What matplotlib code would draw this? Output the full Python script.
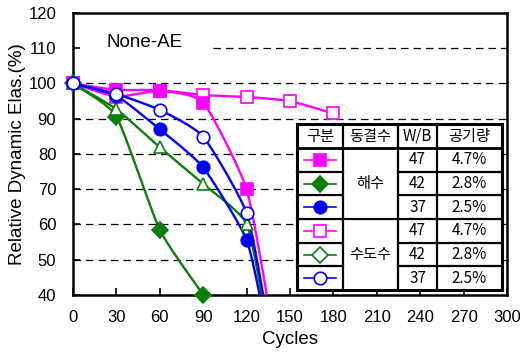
import matplotlib
matplotlib.use('Agg')
import matplotlib.pyplot as plt
import numpy as np
from matplotlib.lines import Line2D
from matplotlib.patches import Rectangle

plt.rcParams['font.family'] = ['Liberation Sans', 'Noto Sans CJK KR', 'DejaVu Sans']

# data
cycles = [0, 30, 60, 90, 120]
sea_47 = [100, 98.2, 98.0, 94.6, 70.0]        # 해수 W/B 47
sea_42 = [100, 90.6, 58.5, 40.0]              # 해수 W/B 42
sea_37 = [100, 96.5, 87.0, 76.2, 55.6]        # 해수 W/B 37
tap_47_x = [0, 30, 60, 90, 120, 150, 180]
tap_47 = [100, 96.3, 98.0, 96.7, 96.2, 95.0, 91.5]  # 수도수 W/B 47
tap_42 = [100, 92.7, 81.9, 71.5, 60.1]        # 수도수 W/B 42
tap_37 = [100, 97.0, 92.5, 84.9, 63.2]        # 수도수 W/B 37
# where the curves leave the bottom of the plot
tails = {'sea_47': (137, 33), 'sea_37': (134, 30), 'tap_42': (134, 32), 'tap_37': (135, 32)}

xticks = list(range(0, 301, 30))
yticks = list(range(40, 121, 10))

table_header = ['구분', '동결수', 'W/B', '공기량']
groups = ['해수', '수도수']
wb = ['47', '42', '37', '47', '42', '37']
air = ['4.7%', '2.8%', '2.5%', '4.7%', '2.8%', '2.5%']

MAG, GRN, BLU = '#FF00FF', '#0A800A', '#0000FF'


def smooth(x, y, c=0.55, n=24):
    # cardinal spline through the points, just for drawing
    p = np.column_stack([x, y]).astype(float)
    m = np.zeros_like(p)
    m[1:-1] = c * (p[2:] - p[:-2]) / 2
    m[0] = c * (p[1] - p[0])
    m[-1] = c * (p[-1] - p[-2])
    t = np.linspace(0, 1, n)[:, None]
    h00 = 2 * t ** 3 - 3 * t ** 2 + 1
    h10 = t ** 3 - 2 * t ** 2 + t
    h01 = -2 * t ** 3 + 3 * t ** 2
    h11 = t ** 3 - t ** 2
    out = [h00 * p[i] + h10 * m[i] + h01 * p[i + 1] + h11 * m[i + 1] for i in range(len(p) - 1)]
    out = np.vstack(out)
    return out[:, 0], out[:, 1]


fig = plt.figure(figsize=(5.2, 3.52), dpi=100)
ax = fig.add_axes([73 / 520, 57 / 352, 434 / 520, 282 / 352])
ax.set_xlim(0, 300)
ax.set_ylim(40, 120)

# dashed grid
for yv in [50, 60, 70, 80, 90, 100]:
    ax.plot([0, 300], [yv, yv], color='black', lw=0.9, ls=(0, (6, 4)), zorder=1)
ax.plot([97, 300], [110, 110], color='black', lw=0.9, ls=(0, (6, 4)), zorder=1)

series = [
    (tap_47_x, tap_47, None, MAG, 's', 'white'),
    (cycles, sea_47, 'sea_47', MAG, 's', MAG),
    (cycles[:4], sea_42, None, GRN, 'D', GRN),
    (cycles, tap_42, 'tap_42', GRN, '^', 'white'),
    (cycles, sea_37, 'sea_37', BLU, 'o', BLU),
    (cycles, tap_37, 'tap_37', BLU, 'o', 'white'),
]
for k, (xs, ys, tail, col, mk, fc) in enumerate(series):
    lx, ly = list(xs), list(ys)
    if tail:
        lx.append(tails[tail][0])
        ly.append(tails[tail][1])
    sx, sy = smooth(lx, ly)
    ax.plot(sx, sy, color=col, lw=1.7, zorder=3 + k * 0.1)
    ms = 9 if mk != 'D' else 8
    ax.plot(xs, ys, ls='none', marker=mk, ms=ms, mfc=fc, mec=col, mew=1.2,
            zorder=4 + k * 0.1, clip_on=False)

ax.text(23, 111.5, 'None-AE', fontsize=13.5, ha='left', va='center')

ax.set_xticks(xticks)
ax.set_yticks(yticks)
ax.tick_params(direction='in', length=5, width=1.2, labelsize=12)
ax.tick_params(axis='x', pad=11)
ax.tick_params(axis='y', pad=12)
for s in ax.spines.values():
    s.set_linewidth(1.8)
ax.set_xlabel('Cycles', fontsize=13.5, labelpad=4)
ax.set_ylabel('Relative Dynamic Elas.(%)', fontsize=13.5, labelpad=2)

# table in axes coordinates
tr = ax.transAxes
cols = [0.516, 0.622, 0.749, 0.839, 0.988]
top, hdr, bot = 0.606, 0.521, 0.0177
rh = (hdr - bot) / 6
ax.add_patch(Rectangle((cols[0], bot), cols[-1] - cols[0], top - bot, transform=tr,
                       facecolor='white', edgecolor='black', lw=2.2, zorder=10))
kw = dict(transform=tr, color='black', zorder=11)
# vertical lines
for c in cols[1:-1]:
    ax.add_line(Line2D([c, c], [bot, top], lw=1.6, **kw))
# header line
ax.add_line(Line2D([cols[0], cols[-1]], [hdr, hdr], lw=2.0, **kw))
# row lines
for i in range(1, 6):
    yv = hdr - i * rh
    lw = 1.6
    if i == 3:
        ax.add_line(Line2D([cols[0], cols[-1]], [yv, yv], lw=lw, **kw))
    else:
        ax.add_line(Line2D([cols[0], cols[1]], [yv, yv], lw=lw, **kw))
        ax.add_line(Line2D([cols[2], cols[-1]], [yv, yv], lw=lw, **kw))

tkw = dict(transform=tr, ha='center', va='center', fontsize=11, zorder=12,
           family=['Noto Sans CJK KR', 'DejaVu Sans'])
for j, h in enumerate(table_header):
    ax.text((cols[j] + cols[j + 1]) / 2, (top + hdr) / 2, h, **tkw)
for g, name in enumerate(groups):
    ax.text((cols[1] + cols[2]) / 2, hdr - (g * 3 + 1.5) * rh, name, **tkw)
for i in range(6):
    yc = hdr - (i + 0.5) * rh
    ax.text((cols[2] + cols[3]) / 2, yc, wb[i], **tkw)
    ax.text((cols[3] + cols[4]) / 2, yc, air[i], **tkw)

legend_style = [(MAG, 's', MAG), (GRN, 'D', GRN), (BLU, 'o', BLU),
                (MAG, 's', 'white'), (GRN, 'D', 'white'), (BLU, 'o', 'white')]
cx = (cols[0] + cols[1]) / 2
for i, (col, mk, fc) in enumerate(legend_style):
    yc = hdr - (i + 0.5) * rh
    ax.add_line(Line2D([cx - 0.036, cx + 0.036], [yc, yc], color=col, lw=1.2,
                       transform=tr, zorder=12))
    ax.add_line(Line2D([cx], [yc], ls='none', marker=mk, ms=9 if mk != 'D' else 8,
                       mfc=fc, mec=col, mew=1.2, transform=tr, zorder=13))

fig.savefig('out.png', dpi=100, facecolor='white')
